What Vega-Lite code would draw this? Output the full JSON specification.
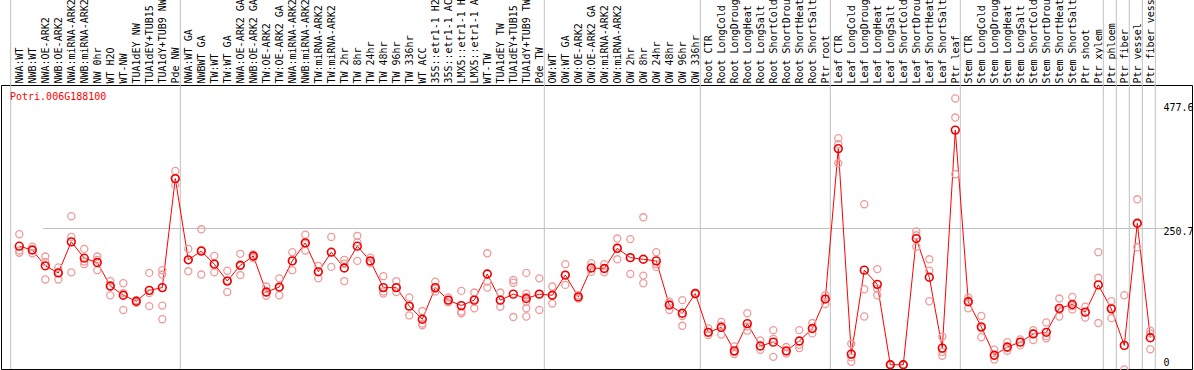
{
  "$schema": "https://vega.github.io/schema/vega-lite/v6.json",
  "autosize": {"type": "none"},
  "padding": {"left": 1, "top": 85, "right": 2, "bottom": 1},
  "width": 1191,
  "height": 284,
  "background": "white",
  "config": {"view": {"stroke": "black", "strokeWidth": 1}, "font": "DejaVu Sans Mono"},
  "datasets": {
    "means": [
      {"label": "NWA:WT", "group": "NW", "value": 218},
      {"label": "NWB:WT", "group": "NW", "value": 211},
      {"label": "NWA:OE-ARK2", "group": "NW", "value": 182},
      {"label": "NWB:OE-ARK2", "group": "NW", "value": 169},
      {"label": "NWA:miRNA-ARK2", "group": "NW", "value": 226},
      {"label": "NWB:miRNA-ARK2", "group": "NW", "value": 196},
      {"label": "NW 0hr", "group": "NW", "value": 188},
      {"label": "WT H2O", "group": "NW", "value": 145},
      {"label": "WT-NW", "group": "NW", "value": 128},
      {"label": "TUA1dEY NW", "group": "NW", "value": 117},
      {"label": "TUA1dEY+TUB15 NW", "group": "NW", "value": 137},
      {"label": "TUA1dY+TUB9 NW", "group": "NW", "value": 142},
      {"label": "Pde NW", "group": "NW", "value": 342},
      {"label": "NWA:WT GA", "group": "TW", "value": 193},
      {"label": "NWBWT GA", "group": "TW", "value": 209},
      {"label": "TW:WT", "group": "TW", "value": 185},
      {"label": "TW:WT GA", "group": "TW", "value": 154},
      {"label": "NWA:OE-ARK2 GA", "group": "TW", "value": 183},
      {"label": "NWB:OE-ARK2 GA", "group": "TW", "value": 200},
      {"label": "TW:OE-ARK2", "group": "TW", "value": 134},
      {"label": "TW:OE-ARK2 GA", "group": "TW", "value": 143},
      {"label": "NWA:miRNA-ARK2 GA", "group": "TW", "value": 191},
      {"label": "NWB:miRNA-ARK2 GA", "group": "TW", "value": 224},
      {"label": "TW:miRNA-ARK2", "group": "TW", "value": 171},
      {"label": "TW:miRNA-ARK2 GA", "group": "TW", "value": 207},
      {"label": "TW 2hr", "group": "TW", "value": 178},
      {"label": "TW 8hr", "group": "TW", "value": 218},
      {"label": "TW 24hr", "group": "TW", "value": 191},
      {"label": "TW 48hr", "group": "TW", "value": 142},
      {"label": "TW 96hr", "group": "TW", "value": 142},
      {"label": "TW 336hr", "group": "TW", "value": 108},
      {"label": "WT ACC", "group": "TW", "value": 84},
      {"label": "35S::etr1-1 H2O", "group": "TW", "value": 142},
      {"label": "35S::etr1-1 ACC", "group": "TW", "value": 119},
      {"label": "LMX5::etr1-1 H2O", "group": "TW", "value": 109},
      {"label": "LMX5::etr1-1 ACC", "group": "TW", "value": 119},
      {"label": "WT-TW", "group": "TW", "value": 167},
      {"label": "TUA1dEY TW", "group": "TW", "value": 119},
      {"label": "TUA1dEY+TUB15 TW", "group": "TW", "value": 130},
      {"label": "TUA1dY+TUB9 TW", "group": "TW", "value": 122},
      {"label": "Pde TW", "group": "TW", "value": 130},
      {"label": "OW:WT", "group": "OW", "value": 128},
      {"label": "OW:WT GA", "group": "OW", "value": 165},
      {"label": "OW:OE-ARK2", "group": "OW", "value": 125},
      {"label": "OW:OE-ARK2 GA", "group": "OW", "value": 178},
      {"label": "OW:miRNA-ARK2", "group": "OW", "value": 177},
      {"label": "OW:miRNA-ARK2 GA", "group": "OW", "value": 214},
      {"label": "OW 2hr", "group": "OW", "value": 197},
      {"label": "OW 8hr", "group": "OW", "value": 194},
      {"label": "OW 24hr", "group": "OW", "value": 191},
      {"label": "OW 48hr", "group": "OW", "value": 110},
      {"label": "OW 96hr", "group": "OW", "value": 95},
      {"label": "OW 336hr", "group": "OW", "value": 131},
      {"label": "Root CTR", "group": "Root", "value": 60},
      {"label": "Root LongCold", "group": "Root", "value": 69},
      {"label": "Root LongDrought", "group": "Root", "value": 26},
      {"label": "Root LongHeat", "group": "Root", "value": 76},
      {"label": "Root LongSalt", "group": "Root", "value": 35},
      {"label": "Root ShortCold", "group": "Root", "value": 42},
      {"label": "Root ShortDrought", "group": "Root", "value": 26},
      {"label": "Root ShortHeat", "group": "Root", "value": 44},
      {"label": "Root ShortSalt", "group": "Root", "value": 67},
      {"label": "Ptr root", "group": "Root", "value": 121},
      {"label": "Leaf CTR", "group": "Leaf", "value": 397},
      {"label": "Leaf LongCold", "group": "Leaf", "value": 20},
      {"label": "Leaf LongDrought", "group": "Leaf", "value": 174},
      {"label": "Leaf LongHeat", "group": "Leaf", "value": 148},
      {"label": "Leaf LongSalt", "group": "Leaf", "value": 0.5},
      {"label": "Leaf ShortCold", "group": "Leaf", "value": 0.5},
      {"label": "Leaf ShortDrought", "group": "Leaf", "value": 232},
      {"label": "Leaf ShortHeat", "group": "Leaf", "value": 161},
      {"label": "Leaf ShortSalt", "group": "Leaf", "value": 31},
      {"label": "Ptr leaf", "group": "Leaf", "value": 431},
      {"label": "Stem CTR", "group": "Stem", "value": 116},
      {"label": "Stem LongCold", "group": "Stem", "value": 70},
      {"label": "Stem LongDrought", "group": "Stem", "value": 18},
      {"label": "Stem LongHeat", "group": "Stem", "value": 33},
      {"label": "Stem LongSalt", "group": "Stem", "value": 42},
      {"label": "Stem ShortCold", "group": "Stem", "value": 57},
      {"label": "Stem ShortDrought", "group": "Stem", "value": 60},
      {"label": "Stem ShortHeat", "group": "Stem", "value": 104},
      {"label": "Stem ShortSalt", "group": "Stem", "value": 111},
      {"label": "Ptr shoot", "group": "Stem", "value": 97},
      {"label": "Ptr xylem", "group": "Stem", "value": 147},
      {"label": "Ptr phloem", "group": "phloem", "value": 103},
      {"label": "Ptr fiber", "group": "fiber", "value": 36},
      {"label": "Ptr vessel", "group": "vessel", "value": 260},
      {"label": "Ptr fiber vessel", "group": "fibervessel", "value": 50}
    ],
    "reps": [
      {"label": "NWA:WT", "value": 240}, {"label": "NWA:WT", "value": 210}, {"label": "NWA:WT", "value": 206},
      {"label": "NWB:WT", "value": 217}, {"label": "NWB:WT", "value": 211}, {"label": "NWB:WT", "value": 205},
      {"label": "NWA:OE-ARK2", "value": 199}, {"label": "NWA:OE-ARK2", "value": 189}, {"label": "NWA:OE-ARK2", "value": 157},
      {"label": "NWB:OE-ARK2", "value": 179}, {"label": "NWB:OE-ARK2", "value": 170}, {"label": "NWB:OE-ARK2", "value": 157},
      {"label": "NWA:miRNA-ARK2", "value": 273}, {"label": "NWA:miRNA-ARK2", "value": 235}, {"label": "NWA:miRNA-ARK2", "value": 170},
      {"label": "NWB:miRNA-ARK2", "value": 213}, {"label": "NWB:miRNA-ARK2", "value": 190}, {"label": "NWB:miRNA-ARK2", "value": 185},
      {"label": "NW 0hr", "value": 199}, {"label": "NW 0hr", "value": 193}, {"label": "NW 0hr", "value": 174},
      {"label": "WT H2O", "value": 154}, {"label": "WT H2O", "value": 144}, {"label": "WT H2O", "value": 128},
      {"label": "WT-NW", "value": 150}, {"label": "WT-NW", "value": 132}, {"label": "WT-NW", "value": 101},
      {"label": "TUA1dEY NW", "value": 119}, {"label": "TUA1dEY NW", "value": 116}, {"label": "TUA1dEY NW", "value": 114},
      {"label": "TUA1dEY+TUB15 NW", "value": 169}, {"label": "TUA1dEY+TUB15 NW", "value": 132}, {"label": "TUA1dEY+TUB15 NW", "value": 108},
      {"label": "TUA1dY+TUB9 NW", "value": 174}, {"label": "TUA1dY+TUB9 NW", "value": 166}, {"label": "TUA1dY+TUB9 NW", "value": 109}, {"label": "TUA1dY+TUB9 NW", "value": 84},
      {"label": "Pde NW", "value": 356}, {"label": "Pde NW", "value": 342}, {"label": "Pde NW", "value": 330},
      {"label": "NWA:WT GA", "value": 213}, {"label": "NWA:WT GA", "value": 193}, {"label": "NWA:WT GA", "value": 172},
      {"label": "NWBWT GA", "value": 249}, {"label": "NWBWT GA", "value": 211}, {"label": "NWBWT GA", "value": 166},
      {"label": "TW:WT", "value": 200}, {"label": "TW:WT", "value": 186}, {"label": "TW:WT", "value": 170},
      {"label": "TW:WT GA", "value": 173}, {"label": "TW:WT GA", "value": 155}, {"label": "TW:WT GA", "value": 134},
      {"label": "NWA:OE-ARK2 GA", "value": 204}, {"label": "NWA:OE-ARK2 GA", "value": 182}, {"label": "NWA:OE-ARK2 GA", "value": 165},
      {"label": "NWB:OE-ARK2 GA", "value": 203}, {"label": "NWB:OE-ARK2 GA", "value": 199}, {"label": "NWB:OE-ARK2 GA", "value": 196},
      {"label": "TW:OE-ARK2", "value": 144}, {"label": "TW:OE-ARK2", "value": 133}, {"label": "TW:OE-ARK2", "value": 127},
      {"label": "TW:OE-ARK2 GA", "value": 159}, {"label": "TW:OE-ARK2 GA", "value": 142}, {"label": "TW:OE-ARK2 GA", "value": 128},
      {"label": "NWA:miRNA-ARK2 GA", "value": 207}, {"label": "NWA:miRNA-ARK2 GA", "value": 191}, {"label": "NWA:miRNA-ARK2 GA", "value": 174},
      {"label": "NWB:miRNA-ARK2 GA", "value": 239}, {"label": "NWB:miRNA-ARK2 GA", "value": 222}, {"label": "NWB:miRNA-ARK2 GA", "value": 210},
      {"label": "TW:miRNA-ARK2", "value": 182}, {"label": "TW:miRNA-ARK2", "value": 171}, {"label": "TW:miRNA-ARK2", "value": 159},
      {"label": "TW:miRNA-ARK2 GA", "value": 235}, {"label": "TW:miRNA-ARK2 GA", "value": 207}, {"label": "TW:miRNA-ARK2 GA", "value": 180},
      {"label": "TW 2hr", "value": 193}, {"label": "TW 2hr", "value": 186}, {"label": "TW 2hr", "value": 154},
      {"label": "TW 8hr", "value": 237}, {"label": "TW 8hr", "value": 225}, {"label": "TW 8hr", "value": 191},
      {"label": "TW 24hr", "value": 197}, {"label": "TW 24hr", "value": 190}, {"label": "TW 24hr", "value": 187},
      {"label": "TW 48hr", "value": 163}, {"label": "TW 48hr", "value": 135}, {"label": "TW 48hr", "value": 131},
      {"label": "TW 96hr", "value": 154}, {"label": "TW 96hr", "value": 142}, {"label": "TW 96hr", "value": 134},
      {"label": "TW 336hr", "value": 124}, {"label": "TW 336hr", "value": 108}, {"label": "TW 336hr", "value": 91},
      {"label": "WT ACC", "value": 99}, {"label": "WT ACC", "value": 76}, {"label": "WT ACC", "value": 73},
      {"label": "35S::etr1-1 H2O", "value": 153}, {"label": "35S::etr1-1 H2O", "value": 140}, {"label": "35S::etr1-1 H2O", "value": 135},
      {"label": "35S::etr1-1 ACC", "value": 124}, {"label": "35S::etr1-1 ACC", "value": 119}, {"label": "35S::etr1-1 ACC", "value": 115},
      {"label": "LMX5::etr1-1 H2O", "value": 136}, {"label": "LMX5::etr1-1 H2O", "value": 98}, {"label": "LMX5::etr1-1 H2O", "value": 95},
      {"label": "LMX5::etr1-1 ACC", "value": 133}, {"label": "LMX5::etr1-1 ACC", "value": 120}, {"label": "LMX5::etr1-1 ACC", "value": 104},
      {"label": "WT-TW", "value": 205}, {"label": "WT-TW", "value": 153}, {"label": "WT-TW", "value": 142},
      {"label": "TUA1dEY TW", "value": 133}, {"label": "TUA1dEY TW", "value": 119}, {"label": "TUA1dEY TW", "value": 107},
      {"label": "TUA1dEY+TUB15 TW", "value": 156}, {"label": "TUA1dEY+TUB15 TW", "value": 151}, {"label": "TUA1dEY+TUB15 TW", "value": 88},
      {"label": "TUA1dY+TUB9 TW", "value": 169}, {"label": "TUA1dY+TUB9 TW", "value": 131}, {"label": "TUA1dY+TUB9 TW", "value": 125}, {"label": "TUA1dY+TUB9 TW", "value": 116}, {"label": "TUA1dY+TUB9 TW", "value": 104}, {"label": "TUA1dY+TUB9 TW", "value": 89},
      {"label": "Pde TW", "value": 159}, {"label": "Pde TW", "value": 130}, {"label": "Pde TW", "value": 101},
      {"label": "OW:WT", "value": 144}, {"label": "OW:WT", "value": 128}, {"label": "OW:WT", "value": 113},
      {"label": "OW:WT GA", "value": 185}, {"label": "OW:WT GA", "value": 165}, {"label": "OW:WT GA", "value": 147},
      {"label": "OW:OE-ARK2", "value": 128}, {"label": "OW:OE-ARK2", "value": 125}, {"label": "OW:OE-ARK2", "value": 122},
      {"label": "OW:OE-ARK2 GA", "value": 187}, {"label": "OW:OE-ARK2 GA", "value": 178}, {"label": "OW:OE-ARK2 GA", "value": 171},
      {"label": "OW:miRNA-ARK2", "value": 185}, {"label": "OW:miRNA-ARK2", "value": 177}, {"label": "OW:miRNA-ARK2", "value": 170},
      {"label": "OW:miRNA-ARK2 GA", "value": 232}, {"label": "OW:miRNA-ARK2 GA", "value": 216}, {"label": "OW:miRNA-ARK2 GA", "value": 194},
      {"label": "OW 2hr", "value": 231}, {"label": "OW 2hr", "value": 197}, {"label": "OW 2hr", "value": 167},
      {"label": "OW 8hr", "value": 271}, {"label": "OW 8hr", "value": 164}, {"label": "OW 8hr", "value": 150},
      {"label": "OW 24hr", "value": 207}, {"label": "OW 24hr", "value": 185}, {"label": "OW 24hr", "value": 180},
      {"label": "OW 48hr", "value": 116}, {"label": "OW 48hr", "value": 112}, {"label": "OW 48hr", "value": 101},
      {"label": "OW 96hr", "value": 119}, {"label": "OW 96hr", "value": 90}, {"label": "OW 96hr", "value": 72},
      {"label": "OW 336hr", "value": 133}, {"label": "OW 336hr", "value": 131}, {"label": "OW 336hr", "value": 130},
      {"label": "Root CTR", "value": 67}, {"label": "Root CTR", "value": 60}, {"label": "Root CTR", "value": 55},
      {"label": "Root LongCold", "value": 79}, {"label": "Root LongCold", "value": 72}, {"label": "Root LongCold", "value": 56},
      {"label": "Root LongDrought", "value": 34}, {"label": "Root LongDrought", "value": 24}, {"label": "Root LongDrought", "value": 20},
      {"label": "Root LongHeat", "value": 95}, {"label": "Root LongHeat", "value": 71}, {"label": "Root LongHeat", "value": 63},
      {"label": "Root LongSalt", "value": 45}, {"label": "Root LongSalt", "value": 34}, {"label": "Root LongSalt", "value": 28},
      {"label": "Root ShortCold", "value": 64}, {"label": "Root ShortCold", "value": 48}, {"label": "Root ShortCold", "value": 15},
      {"label": "Root ShortDrought", "value": 33}, {"label": "Root ShortDrought", "value": 25}, {"label": "Root ShortDrought", "value": 21},
      {"label": "Root ShortHeat", "value": 64}, {"label": "Root ShortHeat", "value": 37}, {"label": "Root ShortHeat", "value": 31},
      {"label": "Root ShortSalt", "value": 77}, {"label": "Root ShortSalt", "value": 67}, {"label": "Root ShortSalt", "value": 58},
      {"label": "Ptr root", "value": 128}, {"label": "Ptr root", "value": 122}, {"label": "Ptr root", "value": 112},
      {"label": "Leaf CTR", "value": 416}, {"label": "Leaf CTR", "value": 405}, {"label": "Leaf CTR", "value": 370},
      {"label": "Leaf LongCold", "value": 39}, {"label": "Leaf LongCold", "value": 14}, {"label": "Leaf LongCold", "value": 6},
      {"label": "Leaf LongDrought", "value": 295}, {"label": "Leaf LongDrought", "value": 139}, {"label": "Leaf LongDrought", "value": 89},
      {"label": "Leaf LongHeat", "value": 176}, {"label": "Leaf LongHeat", "value": 140}, {"label": "Leaf LongHeat", "value": 128},
      {"label": "Leaf LongSalt", "value": 1}, {"label": "Leaf LongSalt", "value": 0.5}, {"label": "Leaf LongSalt", "value": 0},
      {"label": "Leaf ShortCold", "value": 1}, {"label": "Leaf ShortCold", "value": 0.5}, {"label": "Leaf ShortCold", "value": 0},
      {"label": "Leaf ShortDrought", "value": 245}, {"label": "Leaf ShortDrought", "value": 238}, {"label": "Leaf ShortDrought", "value": 217},
      {"label": "Leaf ShortHeat", "value": 194}, {"label": "Leaf ShortHeat", "value": 173}, {"label": "Leaf ShortHeat", "value": 117},
      {"label": "Leaf ShortSalt", "value": 52}, {"label": "Leaf ShortSalt", "value": 24}, {"label": "Leaf ShortSalt", "value": 17},
      {"label": "Ptr leaf", "value": 489}, {"label": "Ptr leaf", "value": 454}, {"label": "Ptr leaf", "value": 350},
      {"label": "Stem CTR", "value": 124}, {"label": "Stem CTR", "value": 118}, {"label": "Stem CTR", "value": 104},
      {"label": "Stem LongCold", "value": 90}, {"label": "Stem LongCold", "value": 68}, {"label": "Stem LongCold", "value": 51},
      {"label": "Stem LongDrought", "value": 28}, {"label": "Stem LongDrought", "value": 17}, {"label": "Stem LongDrought", "value": 10},
      {"label": "Stem LongHeat", "value": 42}, {"label": "Stem LongHeat", "value": 31}, {"label": "Stem LongHeat", "value": 26},
      {"label": "Stem LongSalt", "value": 47}, {"label": "Stem LongSalt", "value": 42}, {"label": "Stem LongSalt", "value": 36},
      {"label": "Stem ShortCold", "value": 64}, {"label": "Stem ShortCold", "value": 58}, {"label": "Stem ShortCold", "value": 46},
      {"label": "Stem ShortDrought", "value": 78}, {"label": "Stem ShortDrought", "value": 53}, {"label": "Stem ShortDrought", "value": 49},
      {"label": "Stem ShortHeat", "value": 122}, {"label": "Stem ShortHeat", "value": 101}, {"label": "Stem ShortHeat", "value": 89},
      {"label": "Stem ShortSalt", "value": 125}, {"label": "Stem ShortSalt", "value": 108}, {"label": "Stem ShortSalt", "value": 102},
      {"label": "Ptr shoot", "value": 107}, {"label": "Ptr shoot", "value": 97}, {"label": "Ptr shoot", "value": 87},
      {"label": "Ptr xylem", "value": 207}, {"label": "Ptr xylem", "value": 160}, {"label": "Ptr xylem", "value": 77},
      {"label": "Ptr phloem", "value": 117}, {"label": "Ptr phloem", "value": 105}, {"label": "Ptr phloem", "value": 86},
      {"label": "Ptr fiber", "value": 128}, {"label": "Ptr fiber", "value": -8},
      {"label": "Ptr vessel", "value": 304}, {"label": "Ptr vessel", "value": 260}, {"label": "Ptr vessel", "value": 216},
      {"label": "Ptr fiber vessel", "value": 63}, {"label": "Ptr fiber vessel", "value": 58}, {"label": "Ptr fiber vessel", "value": 29}
    ]
  },
  "layer": [
    {
      "data": {"name": "means"},
      "transform": [
        {"joinaggregate": [{"op": "count", "as": "n"}], "groupby": ["group"]},
        {"window": [{"op": "row_number", "as": "k"}], "groupby": ["group"]}
      ],
      "mark": {"type": "rule", "color": "#c0c0c0", "strokeWidth": 1, "xOffset": 5},
      "encoding": {
        "x": {
          "field": "label", "type": "nominal", "sort": null,
          "scale": {"type": "point", "padding": 0, "range": [18.3, 1149.3]},
          "axis": {
            "orient": "top", "title": null, "domain": false, "ticks": false, "tickSize": 0,
            "labelAngle": -90, "labelAlign": "left", "labelBaseline": "middle", "labelPadding": 2,
            "labelFont": "DejaVu Sans Mono", "labelFontSize": 10, "labelColor": "black",
            "labelLimit": 300, "labelOverlap": false, "grid": false
          }
        },
        "y": {
          "datum": -7.3, "type": "quantitative",
          "scale": {"domain": [-7.3, 513.7], "nice": false, "zero": false},
          "axis": {
            "orient": "right", "title": null, "values": [0, 250.7, 477.6],
            "labelExpr": "'' + datum.value", "domain": false, "ticks": false, "tickSize": 0,
            "labelPadding": -29, "labelAlign": "left", "labelBaseline": "middle",
            "labelFont": "DejaVu Sans Mono", "labelFontSize": 10, "labelColor": "black",
            "labelOffset": {"condition": {"test": "datum.value == 0", "value": -3}, "value": 3},
            "grid": true, "gridColor": "#c0c0c0", "gridWidth": 1,
            "gridOpacity": {"condition": {"test": "datum.value == 250.7", "value": 1}, "value": 0}
          }
        },
        "y2": {"datum": 700},
        "strokeOpacity": {"condition": {"test": "datum.k == datum.n", "value": 1}, "value": 0}
      }
    },
    {
      "data": {"name": "means"},
      "transform": [
        {"window": [{"op": "row_number", "as": "k"}]},
        {"filter": "datum.k == 1"}
      ],
      "mark": {"type": "rule", "color": "#c0c0c0", "strokeWidth": 1, "xOffset": -8.6},
      "encoding": {
        "x": {"field": "label", "type": "nominal", "sort": null},
        "y": {"datum": -7.3, "type": "quantitative"},
        "y2": {"datum": 700}
      }
    },
    {
      "data": {"name": "means"},
      "mark": {"type": "line", "color": "#ff0000", "strokeWidth": 1},
      "encoding": {
        "x": {"field": "label", "type": "nominal", "sort": null},
        "y": {"field": "value", "type": "quantitative"}
      }
    },
    {
      "data": {"name": "reps"},
      "mark": {"type": "point", "shape": "circle", "filled": false, "color": "#f09a9a", "strokeWidth": 1.3, "size": 50, "opacity": 1},
      "encoding": {
        "x": {"field": "label", "type": "nominal", "sort": null},
        "y": {"field": "value", "type": "quantitative"}
      }
    },
    {
      "data": {"name": "means"},
      "mark": {"type": "point", "shape": "circle", "filled": false, "color": "#ee0000", "strokeWidth": 1.6, "size": 60, "opacity": 1},
      "encoding": {
        "x": {"field": "label", "type": "nominal", "sort": null},
        "y": {"field": "value", "type": "quantitative"}
      }
    },
    {
      "data": {"values": [{"name": "Potri.006G188100"}]},
      "mark": {"type": "text", "color": "#ff0000", "align": "left", "baseline": "middle", "font": "DejaVu Sans Mono", "fontSize": 10, "dx": -9.3},
      "encoding": {
        "x": {"datum": "NWA:WT", "type": "nominal"},
        "y": {"datum": 492, "type": "quantitative"},
        "text": {"field": "name"}
      }
    }
  ]
}
